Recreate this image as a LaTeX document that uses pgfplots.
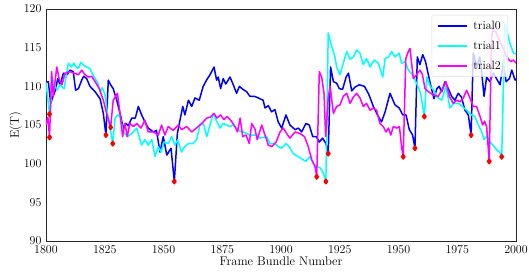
\documentclass[border=0pt]{standalone}
\usepackage{pgfplots}
\pgfplotsset{compat=1.18}
\definecolor{cB}{RGB}{0,0,255}
\definecolor{cC}{RGB}{0,255,255}
\definecolor{cM}{RGB}{255,0,255}
\definecolor{cR}{RGB}{255,0,0}
\begin{document}
\begin{tikzpicture}
\begin{axis}[
  scale only axis, width=470pt, height=232pt,
  xmin=1800, xmax=2000, ymin=90, ymax=120,
  xtick={1800,1825,...,2000}, ytick={90,95,...,120},
  major tick length=0pt,
  /pgf/number format/set thousands separator={},
  tick label style={font=\fontsize{12}{14}\selectfont},
  xticklabel style={yshift=-1pt},
  yticklabel style={xshift=-1pt},
  label style={font=\fontsize{12.5}{15}\selectfont},
  xlabel={Frame Bundle Number}, ylabel={E(T)},
  xlabel style={yshift=3pt},
  ylabel style={yshift=-5pt},
  axis line style={draw=black!85, line width=0.8pt},
  legend style={at={(1,1)}, anchor=north east, xshift=-8pt, yshift=-6pt,
    draw=black!15, fill=white, fill opacity=0.8, text opacity=1,
    rounded corners=2pt, inner xsep=5pt, inner ysep=4pt, row sep=6pt,
    font=\fontsize{12}{14}\selectfont,
    /tikz/every odd column/.append style={column sep=4pt}},
  legend cell align=left,
  legend image code/.code={\draw[#1] (0pt,0pt) -- (29pt,0pt);},
  every axis plot/.append style={line width=1.5pt, line join=round},
]
\coordinate (ll) at (rel axis cs:0,0);
\coordinate (ur) at (rel axis cs:1,1);
\addplot[color=cB, mark=none] coordinates {
(1800,110.5)(1801,110.6)(1802,107.8)(1803,108.7)(1804,109.5)(1805,111.0)(1806,110.2)(1807.4,111.7)(1809,111.5)(1810.2,112.1)(1811.6,111.9)(1812.6,109.5)(1813.8,109.7)(1815.2,110.8)(1816,111.3)(1817.3,111.0)(1818.7,110.0)(1820.9,109.3)(1823,108.4)(1824.4,106.5)(1825.5,103.7)(1826.5,110.8)(1827.5,110.2)(1828.6,109.7)(1830.1,108.2)(1831.5,106.5)(1832.9,104.6)(1834,105.2)(1835,104.9)(1836.5,105.9)(1838,105.9)(1839.3,107.4)(1840.7,106.3)(1842.1,105.4)(1843.5,104.6)(1845.7,104.1)(1847,104.3)(1848.5,101.5)(1849.9,103.5)(1851.4,101.1)(1853.2,102.0)(1854.6,97.7)(1855.9,103.9)(1857,105.6)(1858.2,107.4)(1859.1,106.3)(1860.6,108.2)(1862,107.4)(1863.4,108.5)(1865.2,108.2)(1866.9,110.0)(1868.5,110.9)(1869.8,111.5)(1871.5,112.5)(1872.6,110.8)(1873.3,111.2)(1874.3,109.7)(1875.4,111.0)(1876.5,110.3)(1878.3,111.2)(1879.7,110.2)(1881.1,109.1)(1882.3,110.0)(1883.8,109.6)(1885.4,109.3)(1886.8,108.7)(1888.8,108.7)(1890.3,108.5)(1892.4,108.2)(1893.2,107.2)(1894.6,107.5)(1896.0,106.7)(1897.4,107.0)(1898.8,105.4)(1900.3,104.6)(1902.1,106.3)(1903.8,105.0)(1906.0,104.4)(1907.4,104.6)(1908.8,104.1)(1910.6,105.2)(1912,105.0)(1913.5,103.5)(1915,103.5)(1916.3,102.8)(1917.7,103.3)(1919.1,102.6)(1920.1,101.3)(1921.1,112.5)(1922.3,110.6)(1923.7,110.4)(1924.8,109.7)(1926.2,109.6)(1927.7,111.2)(1928.7,111.7)(1930.1,109.4)(1931.5,109.9)(1933.3,110.2)(1935.5,110.0)(1937.3,109.0)(1939.3,107.4)(1941.4,106.1)(1942.8,105.4)(1944.3,106.7)(1946.4,109.1)(1948.5,107.6)(1950.3,107.2)(1951.8,106.3)(1953.2,106.3)(1954.6,104.4)(1956.0,103.7)(1957.0,102.0)(1958.0,113.8)(1959.1,112.8)(1960.3,114.1)(1961.5,113.2)(1962.7,111.5)(1963.8,110.0)(1965.1,108.4)(1966.3,109.7)(1967.3,110.0)(1968.4,109.3)(1969.8,110.6)(1971.2,109.7)(1972.6,108.7)(1974.0,108.2)(1975.4,109.1)(1976.8,108.6)(1978.3,106.9)(1979.7,106.3)(1980.9,103.7)(1981.8,114.3)(1983.3,112.5)(1984.6,113.8)(1985.5,111.5)(1986.4,108.7)(1987.5,111.2)(1988.9,110.6)(1990.3,111.7)(1991.7,111.0)(1993.2,110.2)(1994.6,113.0)(1995.8,110.6)(1997.2,111.0)(1998.2,112.1)(1999.6,110.8)(2000,111.0)
};
\addlegendentry{trial0}
\addplot[color=cC, mark=none] coordinates {
(1800,110.5)(1801.5,106.4)(1803.1,110.8)(1804.6,109.5)(1806,110.2)(1807.7,109.7)(1808.8,111.7)(1809.5,113.0)(1810.9,112.5)(1811.8,113.0)(1812.8,112.5)(1813.8,112.3)(1814.8,113.1)(1816.6,112.6)(1818.7,112.3)(1819.9,111.5)(1821.3,110.8)(1822,110.5)(1823,109.3)(1824,109.8)(1825.1,108.9)(1826.2,106.5)(1827.3,104.5)(1828.4,102.6)(1829.4,105.9)(1830.4,106.3)(1831.5,106.1)(1832.9,104.1)(1834.6,103.5)(1836.5,103.9)(1838.6,104.6)(1840.7,102.4)(1842.1,103.1)(1843.5,102.4)(1845,103.1)(1846.4,100.9)(1847.8,102.2)(1849,101.5)(1850.2,102.8)(1852,102.6)(1853.5,103.5)(1854.9,102.4)(1856,103.1)(1857.7,101.5)(1859,102.2)(1860.6,102.6)(1862.5,102.6)(1864.1,103.1)(1865.5,105.0)(1867,105.2)(1868.4,103.5)(1869.8,105.0)(1871.2,106.5)(1872.6,105.5)(1874.0,104.6)(1875.4,105.2)(1876.8,105.0)(1878.3,104.8)(1879.7,105.0)(1881.1,104.6)(1882.5,104.2)(1884.0,104.1)(1886.8,103.7)(1889.6,103.7)(1891.1,103.3)(1893.9,103.5)(1895.3,102.6)(1897.4,102.6)(1898.9,102.2)(1900.3,102.0)(1902.1,102.6)(1903.5,102.2)(1905.2,101.3)(1907.4,100.9)(1909.5,100.5)(1910.5,100.3)(1912.3,100.9)(1913.8,100.0)(1915.2,99.6)(1916.6,99.5)(1918.0,98.8)(1919.1,97.7)(1920.1,116.9)(1921.6,115.1)(1922.8,114.0)(1923.7,112.5)(1925.1,111.5)(1926.5,113.0)(1928.0,114.5)(1929.4,113.5)(1930.8,113.8)(1932.2,114.7)(1933.6,114.3)(1935.0,112.8)(1936.4,113.6)(1937.9,112.5)(1939.6,113.4)(1941.4,113.0)(1943.3,111.2)(1944.3,113.6)(1945.8,113.8)(1947.1,114.5)(1948.5,113.8)(1950.3,114.3)(1951.3,113.0)(1952.8,113.2)(1954.2,112.1)(1956.0,111.5)(1958.0,110.2)(1959.4,109.1)(1961.0,106.1)(1962.0,111.2)(1963.5,110.0)(1965.0,109.5)(1966.5,108.6)(1968.4,108.2)(1970.2,110.0)(1971.9,107.2)(1973.5,107.8)(1975.5,107.8)(1977.2,107.4)(1979.0,106.9)(1981.1,106.3)(1982.5,106.1)(1984.0,105.0)(1985.4,104.1)(1986.4,103.1)(1987.7,103.6)(1989,102.8)(1990.4,102.3)(1991.8,101.8)(1993,101.5)(1993.9,100.9)(1995.3,118.1)(1997.4,115.6)(1998.9,114.3)(2000,114.2)
};
\addlegendentry{trial1}
\addplot[color=cM, mark=none] coordinates {
(1800,105.0)(1800.8,106.0)(1801.5,103.4)(1802.4,111.9)(1803.1,108.7)(1804.6,112.5)(1805.7,110.8)(1806.8,110.2)(1808.1,111.7)(1810.2,111.9)(1812,111.7)(1813.8,111.5)(1815.2,112.1)(1816.6,111.5)(1818,111.2)(1819.4,111.3)(1820.9,110.6)(1822.7,109.7)(1824.4,108.2)(1825.8,106.5)(1827.5,104.7)(1828.6,108.2)(1830.4,109.1)(1831.5,106.5)(1832.6,103.5)(1833.6,105.2)(1834.6,103.5)(1835.7,105.2)(1837.2,104.8)(1838.6,105.2)(1840.4,104.6)(1842.1,105.6)(1843.5,104.1)(1845.7,104.1)(1847.8,103.7)(1849.2,105.0)(1850.6,103.7)(1852,104.8)(1854.1,104.3)(1856.3,105.0)(1857.7,104.4)(1859.9,104.8)(1862,104.1)(1864,104.6)(1866.3,105.2)(1868.4,105.9)(1869.8,106.0)(1871.5,106.5)(1872.7,105.9)(1874.3,106.3)(1875.7,105.7)(1877.1,106.1)(1878.9,105.5)(1880.4,104.8)(1881.5,104.1)(1882.6,105.9)(1883.7,103.5)(1885.1,103.7)(1886.5,102.6)(1887.5,105.2)(1888.9,104.5)(1889.9,103.1)(1891.8,105.0)(1893.2,103.7)(1894.6,102.4)(1896.1,102.2)(1897.9,102.8)(1899.6,104.1)(1901,104.6)(1902.4,103.9)(1903.8,103.3)(1906,104.1)(1908.1,103.9)(1910,103.5)(1911.6,102.2)(1913.1,100.5)(1914.5,99.6)(1915.2,98.3)(1916.3,111.9)(1917.3,111.2)(1918.3,109.1)(1919.0,103.5)(1920.1,108.5)(1920.9,110.0)(1922.3,106.5)(1923.7,107.4)(1925.1,107.6)(1926.5,108.7)(1928.0,109.1)(1929.4,107.8)(1930.8,108.6)(1932.2,109.1)(1933.6,108.5)(1935.0,107.4)(1936.4,107.8)(1937.9,106.9)(1939.3,107.2)(1940.7,106.9)(1942.1,105.2)(1943.5,104.8)(1944.7,104.1)(1945.7,104.6)(1946.7,103.7)(1947.8,104.8)(1949.2,104.6)(1950.4,104.8)(1951.3,102.2)(1952.0,100.9)(1953.1,113.6)(1954.2,114.5)(1954.9,114.9)(1956.3,111.0)(1957.7,111.5)(1959.1,112.1)(1960.1,111.6)(1961.3,109.7)(1962.7,109.3)(1964.8,108.9)(1966.9,108.7)(1968.8,109.7)(1970.2,110.6)(1971.6,108.7)(1973.3,107.8)(1974.8,108.2)(1976.2,108.0)(1977.6,108.5)(1979,109.5)(1980.4,108.5)(1981.8,107.4)(1983.2,107.4)(1984.7,106.1)(1985.8,105.0)(1986.6,105.5)(1987.5,104.8)(1988.6,100.3)(1989.6,116.4)(1990.3,117.3)(1991.5,117.0)(1992.9,116.0)(1994.9,114.7)(1996,113.8)(1997.7,113.2)(1998.9,113.4)(2000,113.0)
};
\addlegendentry{trial2}
\addplot[only marks, mark=diamond*, mark size=2.3pt, color=cR, forget plot] coordinates {
(1801.5,106.4)(1801.5,103.4)(1825.5,103.7)(1827.5,104.7)(1828.4,102.6)(1854.6,97.7)(1915.2,98.3)(1919.1,97.7)(1920.1,101.3)(1952.0,100.9)(1957.0,102.0)(1961.0,106.1)(1980.9,103.7)(1988.6,100.3)(1993.9,100.9)
};
\end{axis}
\pgfresetboundingbox
\path[use as bounding box] ([shift={(-46pt,-31pt)}]ll) rectangle ([shift={(13pt,9pt)}]ur);
\end{tikzpicture}
\end{document}
